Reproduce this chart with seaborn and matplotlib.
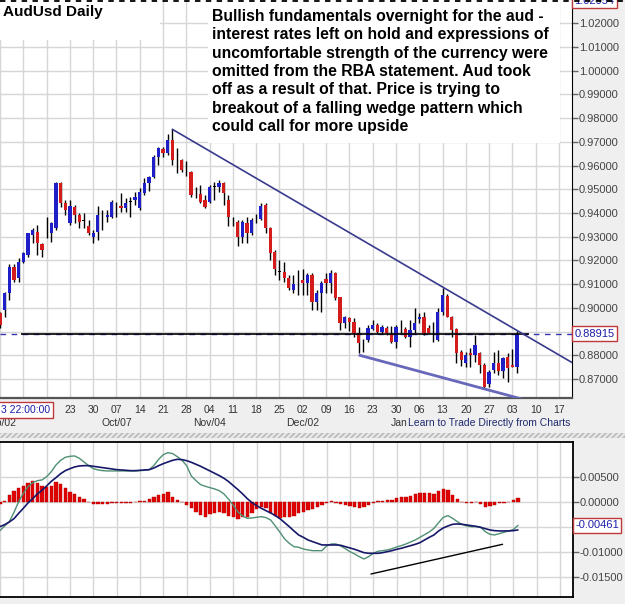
import matplotlib
matplotlib.use('Agg')
import matplotlib.pyplot as plt
import matplotlib.transforms as mtransforms
from matplotlib.patches import Rectangle
from matplotlib.lines import Line2D
import seaborn as sns
import pandas as pd
import numpy as np

sns.set_style('white')
plt.rcParams['font.family'] = ['Liberation Sans', 'DejaVu Sans']
plt.rcParams['hatch.color'] = '#b4b4b4'

# AUD/USD daily bars, Mon 2 Sep 2013 .. Tue 4 Feb 2014
opens = [0.8977, 0.8991, 0.9061, 0.9174, 0.9124, 0.9195, 0.9223, 0.9307, 0.9321, 0.9268,
         0.9321, 0.9314, 0.9335, 0.9525, 0.9441, 0.9356, 0.9427, 0.9392, 0.9370, 0.9345,
         0.9300, 0.9321, 0.9388, 0.9382, 0.9385, 0.9430, 0.9430, 0.9420, 0.9447, 0.9455,
         0.9420, 0.9483, 0.9525, 0.9553, 0.9638, 0.9668, 0.9652, 0.9708, 0.9624, 0.9624,
         0.9595, 0.9574, 0.9480, 0.9480, 0.9455, 0.9448, 0.9511, 0.9511, 0.9525, 0.9455,
         0.9377, 0.9363, 0.9300, 0.9356, 0.9314, 0.9373, 0.9373, 0.9434, 0.9335, 0.9236,
         0.9152, 0.9152, 0.9124, 0.9075, 0.9103, 0.9117, 0.9103, 0.9138, 0.9026, 0.9061,
         0.9120, 0.9106, 0.9148, 0.9044, 0.8935, 0.8956, 0.8942, 0.8892, 0.8866, 0.8864,
         0.8909, 0.8927, 0.8899, 0.8913, 0.8889, 0.8857, 0.8906, 0.8909, 0.8878, 0.8906,
         0.8952, 0.8960, 0.8913, 0.8886, 0.8864, 0.8984, 0.9050, 0.8963, 0.8909, 0.8815,
         0.8766, 0.8808, 0.8801, 0.8808, 0.8759, 0.8679, 0.8738, 0.8769, 0.8735, 0.8791,
         0.8759, 0.8752]
highs = [0.8984, 0.9068, 0.9185, 0.9185, 0.9209, 0.9237, 0.9317, 0.9335, 0.9349, 0.9272,
         0.9385, 0.9363, 0.9532, 0.9532, 0.9455, 0.9455, 0.9434, 0.9399, 0.9399, 0.9370,
         0.9328, 0.9430, 0.9413, 0.9413, 0.9455, 0.9448, 0.9483, 0.9462, 0.9469, 0.9490,
         0.9504, 0.9546, 0.9556, 0.9645, 0.9680, 0.9680, 0.9733, 0.9753, 0.9673, 0.9626,
         0.9621, 0.9576, 0.9511, 0.9518, 0.9476, 0.9518, 0.9532, 0.9539, 0.9532, 0.9476,
         0.9385, 0.9370, 0.9370, 0.9382, 0.9377, 0.9394, 0.9444, 0.9441, 0.9342, 0.9244,
         0.9202, 0.9195, 0.9138, 0.9138, 0.9159, 0.9162, 0.9145, 0.9145, 0.9075, 0.9114,
         0.9145, 0.9159, 0.9150, 0.9047, 0.8965, 0.8960, 0.8956, 0.8918, 0.8868, 0.8927,
         0.8949, 0.8937, 0.8927, 0.8923, 0.8923, 0.8927, 0.8949, 0.8920, 0.8949, 0.8998,
         0.8977, 0.8984, 0.8927, 0.8942, 0.8998, 0.9082, 0.9058, 0.8966, 0.8913, 0.8822,
         0.8815, 0.8829, 0.8885, 0.8815, 0.8766, 0.8738, 0.8815, 0.8822, 0.8794, 0.8808,
         0.8825, 0.8904]
lows = [0.8914, 0.8963, 0.9033, 0.9110, 0.9110, 0.9188, 0.9216, 0.9272, 0.9223, 0.9216,
        0.9293, 0.9279, 0.9328, 0.9427, 0.9392, 0.9349, 0.9356, 0.9335, 0.9335, 0.9307,
        0.9275, 0.9286, 0.9328, 0.9363, 0.9377, 0.9385, 0.9406, 0.9406, 0.9385, 0.9434,
        0.9413, 0.9476, 0.9494, 0.9546, 0.9602, 0.9638, 0.9645, 0.9602, 0.9567, 0.9574,
        0.9556, 0.9469, 0.9462, 0.9444, 0.9420, 0.9441, 0.9455, 0.9490, 0.9434, 0.9345,
        0.9345, 0.9261, 0.9272, 0.9275, 0.9307, 0.9356, 0.9370, 0.9314, 0.9202, 0.9138,
        0.9117, 0.9110, 0.9075, 0.9061, 0.9054, 0.9054, 0.9054, 0.8991, 0.8991, 0.8984,
        0.9061, 0.9061, 0.9033, 0.8906, 0.8913, 0.8904, 0.8878, 0.8808, 0.8815, 0.8857,
        0.8906, 0.8895, 0.8895, 0.8885, 0.8850, 0.8829, 0.8892, 0.8871, 0.8836, 0.8892,
        0.8935, 0.8885, 0.8892, 0.8857, 0.8862, 0.8970, 0.8960, 0.8878, 0.8766, 0.8755,
        0.8752, 0.8752, 0.8773, 0.8724, 0.8656, 0.8667, 0.8724, 0.8717, 0.8703, 0.8689,
        0.8749, 0.8724]
closes = [0.8928, 0.9061, 0.9174, 0.9117, 0.9195, 0.9230, 0.9314, 0.9328, 0.9272, 0.9244,
          0.9318, 0.9356, 0.9525, 0.9441, 0.9413, 0.9430, 0.9392, 0.9363, 0.9368, 0.9314,
          0.9317, 0.9392, 0.9387, 0.9392, 0.9448, 0.9428, 0.9420, 0.9441, 0.9449, 0.9469,
          0.9490, 0.9525, 0.9553, 0.9638, 0.9673, 0.9652, 0.9708, 0.9624, 0.9622, 0.9581,
          0.9593, 0.9476, 0.9479, 0.9448, 0.9427, 0.9511, 0.9510, 0.9528, 0.9483, 0.9385,
          0.9378, 0.9300, 0.9363, 0.9314, 0.9370, 0.9374, 0.9430, 0.9335, 0.9230, 0.9163,
          0.9153, 0.9124, 0.9082, 0.9099, 0.9104, 0.9103, 0.9138, 0.9026, 0.9061, 0.9106,
          0.9103, 0.9148, 0.9040, 0.8935, 0.8960, 0.8942, 0.8892, 0.8850, 0.8864, 0.8913,
          0.8927, 0.8899, 0.8918, 0.8892, 0.8857, 0.8920, 0.8907, 0.8878, 0.8906, 0.8937,
          0.8960, 0.8892, 0.8895, 0.8885, 0.8984, 0.9054, 0.8963, 0.8906, 0.8808, 0.8780,
          0.8801, 0.8801, 0.8843, 0.8759, 0.8667, 0.8731, 0.8766, 0.8735, 0.8787, 0.8745,
          0.8752, 0.88915]

# MACD panel
macd = [-0.00567, -0.00473, -0.00387, -0.00200, 0.00013, 0.00180, 0.00313, 0.00393, 0.00433, 0.00447,
        0.00513, 0.00613, 0.00747, 0.00840, 0.00900, 0.00920, 0.00927, 0.00880, 0.00807, 0.00733,
        0.00673, 0.00647, 0.00633, 0.00627, 0.00627, 0.00627, 0.00627, 0.00627, 0.00627, 0.00627,
        0.00633, 0.00640, 0.00653, 0.00740, 0.00860, 0.00953, 0.00993, 0.00973, 0.00913, 0.00840,
        0.00733, 0.00527, 0.00433, 0.00353, 0.00320, 0.00293, 0.00267, 0.00233, 0.00167, 0.00060,
        -0.00060, -0.00193, -0.00273, -0.00320, -0.00313, -0.00300, -0.00287, -0.00307, -0.00353, -0.00473,
        -0.00600, -0.00733, -0.00820, -0.00887, -0.00900, -0.00933, -0.00953, -0.00967, -0.00967, -0.00967,
        -0.00873, -0.00833, -0.00833, -0.00873, -0.00927, -0.00987, -0.01033, -0.01087, -0.01133, -0.01087,
        -0.01020, -0.00980, -0.00967, -0.00953, -0.00927, -0.00893, -0.00867, -0.00833, -0.00793, -0.00753,
        -0.00700, -0.00647, -0.00593, -0.00520, -0.00407, -0.00300, -0.00267, -0.00320, -0.00387, -0.00440,
        -0.00473, -0.00487, -0.00487, -0.00500, -0.00587, -0.00640, -0.00653, -0.00627, -0.00600, -0.00573,
        -0.00547, -0.00461]
signal = [-0.00487, -0.00447, -0.00393, -0.00327, -0.00220, -0.00120, -0.00013, 0.00073, 0.00167, 0.00240,
          0.00327, 0.00420, 0.00493, 0.00573, 0.00633, 0.00673, 0.00707, 0.00727, 0.00733, 0.00733,
          0.00720, 0.00707, 0.00693, 0.00680, 0.00667, 0.00653, 0.00647, 0.00640, 0.00633, 0.00633,
          0.00640, 0.00647, 0.00653, 0.00687, 0.00733, 0.00773, 0.00807, 0.00840, 0.00860, 0.00853,
          0.00833, 0.00800, 0.00760, 0.00720, 0.00673, 0.00627, 0.00580, 0.00533, 0.00480, 0.00413,
          0.00333, 0.00253, 0.00167, 0.00073, -0.00007, -0.00067, -0.00120, -0.00167, -0.00213, -0.00267,
          -0.00327, -0.00407, -0.00487, -0.00573, -0.00653, -0.00700, -0.00753, -0.00787, -0.00820, -0.00853,
          -0.00853, -0.00853, -0.00853, -0.00860, -0.00887, -0.00913, -0.00940, -0.00973, -0.01007, -0.01020,
          -0.01020, -0.01020, -0.01007, -0.00987, -0.00967, -0.00940, -0.00920, -0.00893, -0.00867, -0.00840,
          -0.00807, -0.00753, -0.00700, -0.00653, -0.00573, -0.00513, -0.00473, -0.00440, -0.00433, -0.00440,
          -0.00453, -0.00467, -0.00480, -0.00500, -0.00527, -0.00553, -0.00567, -0.00573, -0.00573, -0.00573,
          -0.00567, -0.00553]
hist = [-0.0003, 0.0002, 0.0015, 0.0023, 0.0028, 0.0033, 0.0039, 0.0043, 0.0038, 0.0033,
        0.0031, 0.0033, 0.0040, 0.0037, 0.0028, 0.0021, 0.0017, 0.0011, 0.0006, 0.0001,
        -0.0003, -0.0004, -0.0004, -0.0003, -0.0002, -0.0002, -0.0001, -0.0001, -0.0001, 0.0001,
        0.0002, 0.0003, 0.0006, 0.0011, 0.0015, 0.0017, 0.0020, 0.0011, 0.0005, 0.0001,
        -0.0005, -0.0012, -0.0019, -0.0025, -0.0029, -0.0024, -0.0022, -0.0019, -0.0022, -0.0027,
        -0.0030, -0.0033, -0.0030, -0.0029, -0.0021, -0.0014, -0.0010, -0.0012, -0.0022, -0.0027,
        -0.0032, -0.0030, -0.0029, -0.0027, -0.0022, -0.0019, -0.0015, -0.0014, -0.0010, -0.0005,
        -0.0002, 0.0003, -0.0002, -0.0004, -0.0005, -0.0007, -0.0009, -0.0012, -0.0010, -0.0005,
        -0.0002, 0.0003, 0.0003, 0.0004, 0.0005, 0.0008, 0.0010, 0.0011, 0.0013, 0.0017,
        0.0019, 0.0019, 0.0018, 0.0017, 0.0022, 0.0026, 0.0025, 0.0015, 0.0006, 0.0001,
        -0.0001, -0.0001, 0.0000, -0.0003, -0.0010, -0.0007, -0.0005, -0.0002, -0.0001, 0.0001,
        0.0004, 0.0009]

# hand-drawn lines (bar index, value)
upper_wedge = [(37, 0.9753), (95, 0.9088)]
lower_wedge = [(77, 0.8801), (104, 0.8658)]
macd_trend = [(79.5, -0.01434), (107.7, -0.0084)]
hline_span = (4.5, 113.6)

price_ticks = [0.87, 0.88, 0.89, 0.90, 0.91, 0.92, 0.93, 0.94, 0.95, 0.96, 0.97, 0.98, 0.99, 1.00, 1.01, 1.02]
macd_ticks = [0.005, 0.0, -0.005, -0.010, -0.015]
high_label = 1.02954
cursor_label = '3 22:00:00'
watermark = 'Learn to Trade Directly from Charts'

note = ("Bullish fundamentals overnight for the aud -\n"
        "interest rates left on hold and expressions of\n"
        "uncomfortable strength of the currency were\n"
        "omitted from the RBA statement. Aud took\n"
        "off as a result of that. Price is trying to\n"
        "breakout of a falling wedge pattern which\n"
        "could call for more upside")

axis_dates = pd.bdate_range('2013-09-02', '2014-02-21')
df = pd.DataFrame({'open': opens, 'high': highs, 'low': lows, 'close': closes,
                   'macd': macd, 'signal': signal, 'hist': hist})
df['x'] = np.arange(len(df))

BG = '#efefef'
BLUE = '#1f1fc8'
RED = '#d41c1c'
LABEL_BLUE = '#1c1ca8'
BOX_RED = '#c03838'

W, H = 625, 604
fig = plt.figure(figsize=(W / 100, H / 100), dpi=100, facecolor=BG)
ax = fig.add_axes([0, 1 - 398 / H, 572 / W, 398 / H])
ax2 = fig.add_axes([0, 1 - 597 / H, 573 / W, 155 / H])

xlim = (0.214, 122.8)
mondays = [i for i, d in enumerate(axis_dates) if d.weekday() == 0]
first_mondays = [i for i in mondays if axis_dates[i].day <= 7]
cursor_end = 12          # bars hidden under the cursor date box
wm_start = 87.6          # bar position where the watermark starts


def tick_labels(ticks, tagged, gap):
    # labels that sit under a value tag are hidden, as on the terminal
    return ['' if abs(t - tagged) < gap else f'{t:.5f}' for t in ticks]


for a in (ax, ax2):
    a.set_facecolor('white')
    a.set_xlim(*xlim)
    a.set_xticks(mondays)
    a.grid(True, color='#d6d6d6', lw=1)
    a.set_axisbelow(True)
    a.yaxis.tick_right()
    a.tick_params(axis='y', length=4, width=1, color='#666666', labelsize=8,
                  labelcolor='#444444', pad=1, direction='out', right=True)

# ---------------- price panel ----------------
last = df['close'].iloc[-1]
ax.set_ylim(0.86197, 1.02983)
ax.set_yticks(price_ticks)
ax.set_yticklabels(tick_labels(price_ticks, last, 0.004))
ax.set_xticklabels(['' if i < cursor_end else axis_dates[i].strftime('%d') for i in mondays])
ax.tick_params(axis='x', length=0, labelsize=7.5, labelcolor='#333333', pad=5)
for s in ('top', 'left'):
    ax.spines[s].set_visible(False)
ax.spines['right'].set_color('black')
ax.spines['bottom'].set_color('#555555')
ax.spines['bottom'].set_linewidth(1.6)

up = df['close'] >= df['open']
body_lo = df[['open', 'close']].min(axis=1)
body_h = (df['close'] - df['open']).abs()
doji = body_h < 0.0003
colors = np.where(doji, 'black', np.where(up, BLUE, RED))
ax.vlines(df['x'], df['low'], df['high'], color='black', lw=1, zorder=3)
ax.bar(df['x'], body_h.clip(lower=0.00022), bottom=body_lo, width=0.7,
       color=colors, linewidth=0, zorder=4)

ax.axhline(last, color='#3535b0', lw=1, ls=(0, (4, 4)), zorder=2)
ax.hlines(last, *hline_span, color='black', lw=1.2, zorder=5)

(x0, y0), (x1, y1) = upper_wedge
k = (y1 - y0) / (x1 - x0)
ax.plot([x0, xlim[1]], [y0, y0 + k * (xlim[1] - x0)], color='#3a3a8e', lw=1.2, zorder=5)
(x0, y0), (x1, y1) = lower_wedge
k = (y1 - y0) / (x1 - x0)
ax.plot([x0, xlim[1]], [y0, y0 + k * (xlim[1] - x0)], color='#6868bb', lw=2, zorder=5,
        solid_capstyle='butt')

# white panels behind title and note
ax.add_patch(Rectangle((0, 1 - 40 / 398), 160 / 572, 40 / 398, transform=ax.transAxes,
                       facecolor='white', edgecolor='none', zorder=6))
ax.add_patch(Rectangle((208 / 572, 1 - 143 / 398), 352 / 572, 143 / 398, transform=ax.transAxes,
                       facecolor='white', edgecolor='none', zorder=6))
ax.text(3 / 572, 1 - 5 / 398, 'AudUsd Daily', transform=ax.transAxes, ha='left', va='top',
        fontsize=11, fontweight='bold', color='black', zorder=7)
ax.text(212 / 572, 1 - 9 / 398, note, transform=ax.transAxes, ha='left', va='top',
        fontsize=11.3, fontweight='bold', color='black', linespacing=1.275, zorder=7)

# price tags on the right axis
ytrans = mtransforms.blended_transform_factory(ax.transAxes, ax.transData)
tag = dict(facecolor='white', edgecolor=BOX_RED, pad=1.6, lw=1)
ax.text(1.004, last, f'{last:.5f}', transform=ytrans, ha='left', va='center', fontsize=8,
        color=LABEL_BLUE, bbox=tag, clip_on=False, zorder=8)
ax.text(1.004, high_label, f'{high_label:.5f}', transform=ytrans, ha='left', va='center',
        fontsize=8, color=LABEL_BLUE, bbox=tag, clip_on=False, zorder=8)

# date row extras: month names, cursor date box, watermark
xtrans = mtransforms.blended_transform_factory(ax.transData, ax.transAxes)
month_y = -25 / 398
for i in first_mondays:
    if i < wm_start - 6:
        ax.text(i, month_y, axis_dates[i].strftime('%b/%d'), transform=xtrans, ha='center',
                va='center', fontsize=7.5, color='#333333', clip_on=False)
    elif i < wm_start + 6:
        ax.text(wm_start, month_y, axis_dates[i].strftime('%b'), transform=xtrans, ha='right',
                va='center', fontsize=7.5, color='#333333', clip_on=False)
ax.text(1 / 572, -12 / 398, cursor_label, transform=ax.transAxes, ha='left', va='center',
        fontsize=7.5, color=LABEL_BLUE, bbox=dict(facecolor='white', edgecolor=BOX_RED, pad=2, lw=1),
        clip_on=False, zorder=8)
ax.text(wm_start, month_y, watermark, transform=xtrans, ha='left', va='center', fontsize=7.5,
        color='#1f2a6e', clip_on=False, zorder=8)

# ---------------- MACD panel ----------------
ax2.set_ylim(-0.01894, 0.01206)
ax2.set_yticks(macd_ticks)
ax2.set_yticklabels(tick_labels(macd_ticks, macd[-1], 0.002))
ax2.set_xticklabels([])
ax2.tick_params(axis='x', length=0)
for s in ax2.spines.values():
    s.set_color('black')
    s.set_linewidth(1.3)
ax2.spines['left'].set_visible(False)

ax2.bar(df['x'], df['hist'], width=0.74, color='#e00000', edgecolor='#b00000', linewidth=0.3, zorder=2)
sns.lineplot(data=df, x='x', y='macd', ax=ax2, color='#4f8f72', lw=1, estimator=None, zorder=3)
sns.lineplot(data=df, x='x', y='signal', ax=ax2, color='#18186a', lw=1.2, estimator=None, zorder=3)
(x0, y0), (x1, y1) = macd_trend
ax2.plot([x0, x1], [y0, y1], color='black', lw=1, zorder=4)
ax2.set_xlabel('')
ax2.set_ylabel('')

ytrans2 = mtransforms.blended_transform_factory(ax2.transAxes, ax2.transData)
ax2.text(1.004, macd[-1], f'{macd[-1]:.5f}', transform=ytrans2, ha='left', va='center', fontsize=8,
         color=LABEL_BLUE, bbox=tag, clip_on=False, zorder=8)

# separator strip and top selection border
fig.add_artist(Rectangle((0, 1 - 438 / H), 1, 5 / H, transform=fig.transFigure,
                         facecolor='#e6e6e6', edgecolor='#b4b4b4', hatch='//////', lw=0))
fig.add_artist(Line2D([0, 1], [1 - 1 / H, 1 - 1 / H], transform=fig.transFigure,
                      color='black', lw=1.3, ls=(0, (3, 3))))

fig.savefig('out.png', dpi=100, facecolor=BG)
